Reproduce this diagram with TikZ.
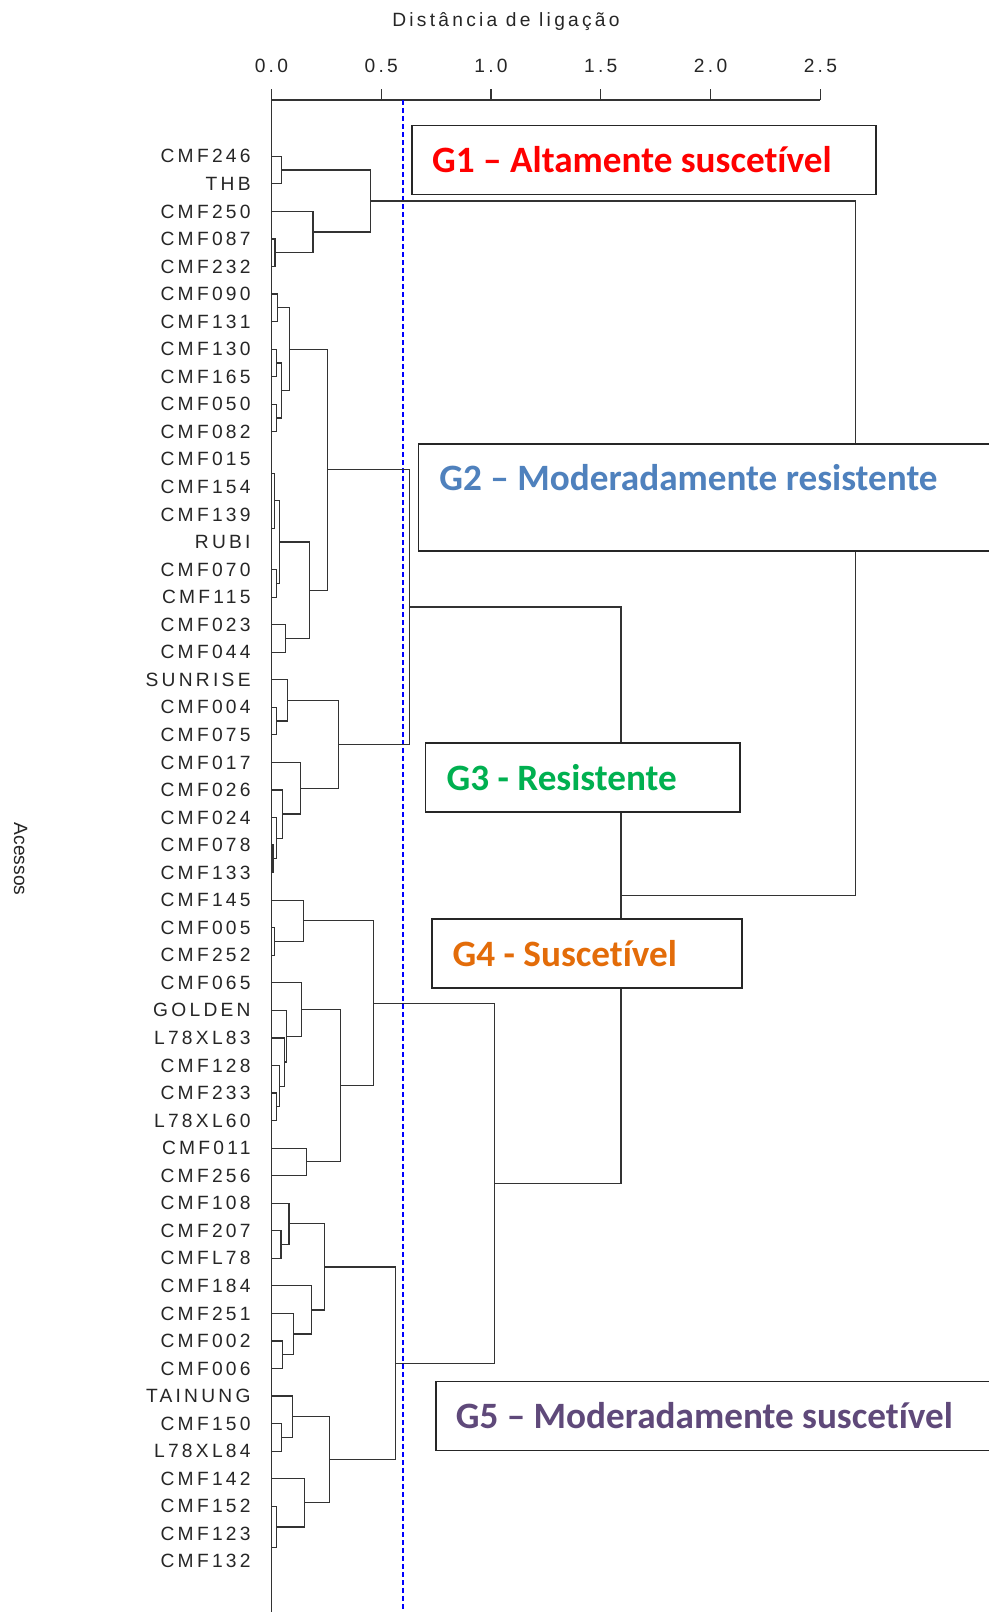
\documentclass[tikz,border=0pt]{standalone}
\usepackage{fontspec}
\setmainfont{Liberation Sans}
\newfontfamily\rotulo[LetterSpace=17]{Liberation Sans}
\newfontfamily\grupofonte[Ligatures=NoCommon]{Carlito}
\usetikzlibrary{calc}

\definecolor{corG2}{HTML}{4F81BD}
\definecolor{corG3}{HTML}{00B050}
\definecolor{corG4}{HTML}{E36C09}
\definecolor{corG5}{HTML}{5F497A}

\tikzset{
  ramo/.style={line width=0.6pt, black!80},
  acesso/.style={font=\rotulo\fontsize{9.6pt}{11pt}\selectfont, text=black!85, inner sep=0pt, anchor=east},
  escala/.style={font=\rotulo\fontsize{9.6pt}{11pt}\selectfont, text=black!85, inner sep=0pt},
  caixa/.style={draw=black!85, line width=0.75pt, fill=white},
  grupo/.style={font=\grupofonte\bfseries\fontsize{18.6pt}{22pt}\selectfont, inner sep=0pt, anchor=base west},
  corte/.style={blue, line width=0.55pt, dash pattern=on 2.5pt off 1.5pt},
}

% #1 novo grupo, #2 e #3 filhos, #4 distancia de ligacao
\newcommand{\junta}[4]{%
  \draw[ramo] (#2) -- (#4,0 |- #2) -- (#4,0 |- #3) coordinate[midway] (#1) -- (#3);
}

\begin{document}
\begin{tikzpicture}[x=0.5pt,y=-0.5pt]
\fill[white] (0,0) rectangle (989,1612);
\useasboundingbox (0,0) rectangle (989,1612);

% eixo de distancia
\node[escala] (titulo) at (506,22) {Distância de ligação};
\draw[ramo] (271.4,89) -- (271.4,1612);
\draw[ramo] (271.4,100) -- (820.3,100);
\foreach \v [count=\k from 0] in {0.0,0.5,1.0,1.5,2.0,2.5}{
  \draw[ramo] (271.4+109.8*\k,100) -- ++(0,-11);
  \node[escala] (t\k) at (271.4+109.8*\k,66) {\v};
}
\node[font=\fontsize{9.6pt}{11pt}\selectfont, text=black!85, rotate=-90, inner sep=0pt] (acessos) at (20.6,859) {Acessos};

% ponto de corte
\draw[corte] (403,100) -- (403,1612);

\begin{scope}[shift={(271.4,128.75)}, x=109.8pt, y=-13.775pt]
\foreach \ac [count=\i] in {CMF246,THB,CMF250,CMF087,CMF232,CMF090,CMF131,CMF130,CMF165,CMF050,CMF082,CMF015,CMF154,CMF139,RUBI,CMF070,CMF115,CMF023,CMF044,SUNRISE,CMF004,CMF075,CMF017,CMF026,CMF024,CMF078,CMF133,CMF145,CMF005,CMF252,CMF065,GOLDEN,L78XL83,CMF128,CMF233,L78XL60,CMF011,CMF256,CMF108,CMF207,CMFL78,CMF184,CMF251,CMF002,CMF006,TAINUNG,CMF150,L78XL84,CMF142,CMF152,CMF123,CMF132}{
  \coordinate (\ac) at (0,\i);
  \node[acesso] (r-\ac) at (-0.093,\i) {\ac};
}
% G1
\junta{a1}{CMF246}{THB}{0.046}
\junta{a2}{CMF087}{CMF232}{0.016}
\junta{a3}{CMF250}{a2}{0.189}
\junta{a4}{a1}{a3}{0.452}
% G2
\junta{b1}{CMF090}{CMF131}{0.028}
\junta{b2}{CMF130}{CMF165}{0.024}
\junta{b3}{CMF050}{CMF082}{0.024}
\junta{b4}{b2}{b3}{0.047}
\junta{b5}{b1}{b4}{0.081}
\junta{b6}{CMF015}{CMF154}{0}
\junta{b7}{CMF139}{RUBI}{0}
\junta{b8}{b6}{b7}{0.015}
\junta{b9}{CMF070}{CMF115}{0.024}
\junta{b10}{b8}{b9}{0.036}
\junta{b11}{CMF023}{CMF044}{0.065}
\junta{b12}{b10}{b11}{0.175}
\junta{b13}{b5}{b12}{0.255}
% G3
\junta{c1}{CMF004}{CMF075}{0.024}
\junta{c2}{SUNRISE}{c1}{0.072}
\junta{c3}{CMF078}{CMF133}{0.007}
\junta{c4}{CMF024}{c3}{0.024}
\junta{c5}{CMF026}{c4}{0.051}
\junta{c6}{CMF017}{c5}{0.131}
\junta{c7}{c2}{c6}{0.306}
\junta{d1}{b13}{c7}{0.63}
% G4
\junta{e1}{CMF005}{CMF252}{0.015}
\junta{e2}{CMF145}{e1}{0.147}
\junta{e3}{CMF233}{L78XL60}{0.024}
\junta{e4}{CMF128}{e3}{0.036}
\junta{e5}{L78XL83}{e4}{0.06}
\junta{e6}{GOLDEN}{e5}{0.07}
\junta{e7}{CMF065}{e6}{0.137}
\junta{e8}{CMF011}{CMF256}{0.16}
\junta{e9}{e7}{e8}{0.316}
\junta{e10}{e2}{e9}{0.464}
% G5
\junta{f1}{CMF207}{CMFL78}{0.044}
\junta{f2}{CMF108}{f1}{0.08}
\junta{f3}{CMF002}{CMF006}{0.051}
\junta{f4}{CMF251}{f3}{0.101}
\junta{f5}{CMF184}{f4}{0.183}
\junta{f6}{f2}{f5}{0.24}
\junta{f7}{CMF150}{L78XL84}{0.047}
\junta{f8}{TAINUNG}{f7}{0.095}
\junta{f9}{CMF123}{CMF132}{0}
\junta{f10}{CMF152}{f9}{0.024}
\junta{f11}{CMF142}{f10}{0.152}
\junta{f12}{f8}{f11}{0.263}
\junta{f13}{f6}{f12}{0.564}
% uniao dos grupos
\junta{d2}{e10}{f13}{1.016}
\junta{d3}{d1}{d2}{1.592}
\junta{raiz}{a4}{d3}{2.659}
\end{scope}

% grupos
\draw[caixa] (412.2,125.4) rectangle (875.9,194.3);
\node[grupo, text=red] (g1) at (431.8,172.3) {G1 – Altamente suscetível};
\draw[caixa] (418.4,444.1) rectangle (995,551);
\node[grupo, text=corG2] (g2) at (439,490) {G2 – Moderadamente resistente};
\draw[caixa] (425.6,743.2) rectangle (740.2,812.1);
\node[grupo, text=corG3] (g3) at (446.2,790.2) {G3 - Resistente};
\draw[caixa] (431.8,919) rectangle (742.2,987.9);
\node[grupo, text=corG4] (g4) at (452.3,966) {G4 - Suscetível};
\draw[caixa] (435.9,1381.6) rectangle (995,1450.5);
\node[grupo, text=corG5] (g5) at (455.4,1428.6) {G5 – Moderadamente suscetível};
\end{tikzpicture}
\end{document}
